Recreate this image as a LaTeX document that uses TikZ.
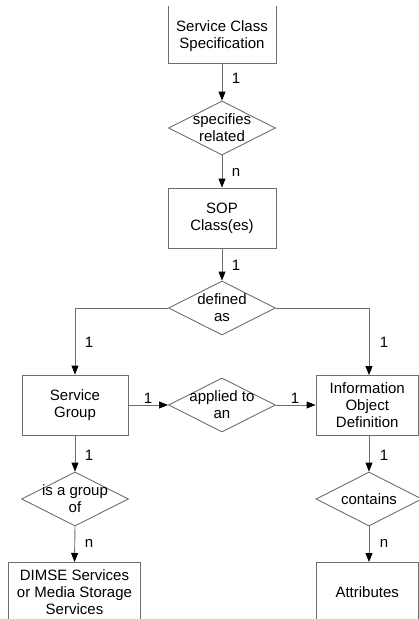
\documentclass[tikz,border=0pt]{standalone}
\usepackage{fontspec}
\setmainfont{Liberation Sans}
\usetikzlibrary{arrows.meta,shapes.geometric}
\definecolor{linegray}{RGB}{110,110,110}
\begin{document}
\begin{tikzpicture}[x=1pt,y=-1pt,
  every node/.style={font=\fontsize{15}{17}\selectfont, text=black},
  box/.style={draw=linegray, line width=0.9pt, rectangle, inner sep=0pt, align=center},
  dia/.style={draw=linegray, line width=0.9pt, diamond, inner sep=0pt, minimum width=107pt, minimum height=54pt},
  txt/.style={align=center, inner sep=0pt},
  lbl/.style={inner sep=0pt},
  arr/.style={draw=linegray, line width=0.9pt, -{Triangle[length=9pt,width=7pt,color=black]}}
]
\useasboundingbox (0,0) rectangle (419,619);
\begin{scope}
\clip (0,6) rectangle (419,619);
% boxes
\node[box, minimum width=108pt, minimum height=90pt, anchor=south] (scs) at (222,64) {};
\node[txt] (scst) at (222,36.5) {Service Class\\Specification};
\node[dia] (spec) at (222,128) {};
\node[txt] (spect) at (222,127.5) {specifies\\related};
\node[box, minimum width=108pt, minimum height=60pt] (sop) at (222,218) {SOP\\Class(es)};
\node[dia] (def) at (222,308) {};
\node[txt] (deft) at (222,308) {defined\\as};
\node[box, minimum width=106pt, minimum height=60pt] (sg) at (75,405) {Service\\Group};
\node[dia] (app) at (222,405) {};
\node[txt] (appt) at (222,405) {applied to\\an};
\node[box, minimum width=102.5pt, minimum height=60pt] (iod) at (367.25,405) {Information\\Object\\Definition};
\node[dia] (grp) at (75,499) {};
\node[txt] (grpt) at (75,498.5) {is a group\\of};
\node[dia, minimum width=106pt] (con) at (369,499) {};
\node[txt] (cont) at (369,499) {contains};
\node[box, minimum width=132pt, minimum height=60pt, anchor=north] (dim) at (74.5,562) {DIMSE Services\\or Media Storage\\Services};
\node[box, minimum width=102.5pt, minimum height=60pt, anchor=north] (att) at (367.25,562) {Attributes};
\coordinate (iodn) at (369,375);
\coordinate (iods) at (369,435);
\coordinate (attn) at (369,562);
% connectors
\draw[arr] (scs.south) -- (spec.north);
\draw[arr] (spec.south) -- (sop.north);
\draw[arr] (sop.south) -- (def.north);
\draw[arr] (def.west) -| (sg.north);
\draw[arr] (def.east) -| (iodn);
\draw[arr] (sg.east) -- (app.west);
\draw[arr] (app.east) -- (iod.west);
\draw[arr] (sg.south) -- (grp.north);
\draw[arr] (grp.south) -- (dim.north);
\draw[arr] (iods) -- (con.north);
\draw[arr] (con.south) -- (attn);
% labels
\node[lbl] (l1) at (236,78) {1};
\node[lbl] (l2) at (236,172) {n};
\node[lbl] (l3) at (236,265) {1};
\node[lbl] (l4) at (89,342) {1};
\node[lbl] (l5) at (384,342) {1};
\node[lbl] (l6) at (148,398) {1};
\node[lbl] (l7) at (295,398) {1};
\node[lbl] (l8) at (89,455) {1};
\node[lbl] (l9) at (384,455) {1};
\node[lbl] (l10) at (89,543) {n};
\node[lbl] (l11) at (384,543) {n};
\end{scope}
\end{tikzpicture}
\end{document}
